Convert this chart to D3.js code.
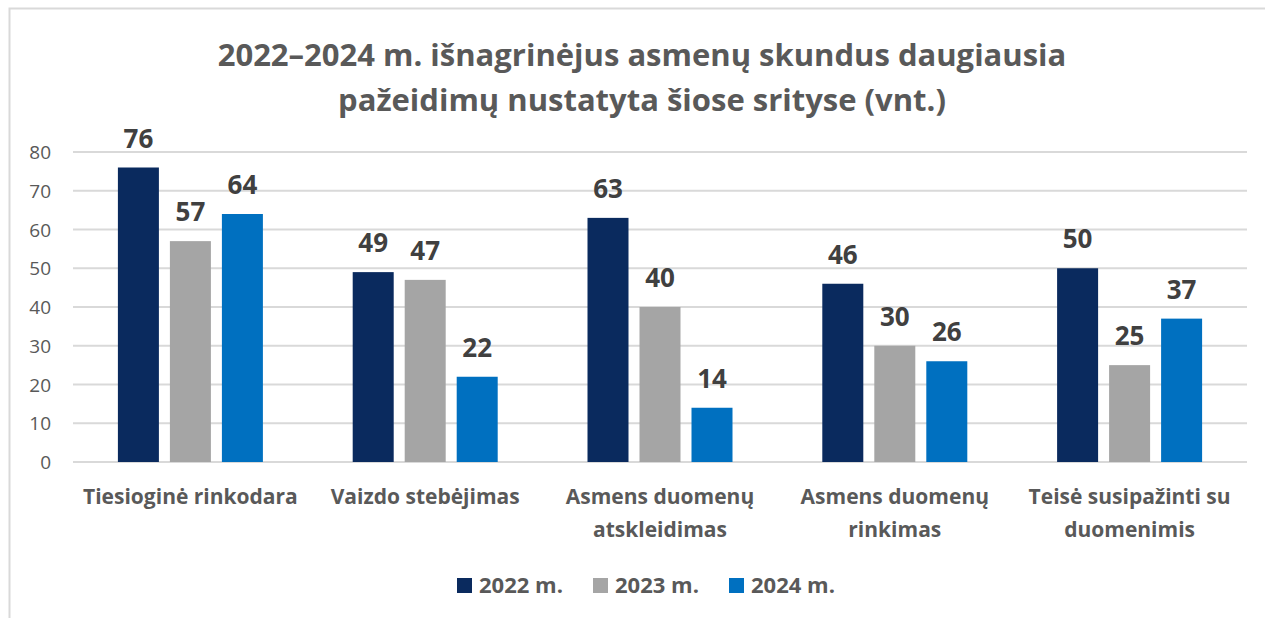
<!DOCTYPE html>
<html>
<head>
<meta charset="utf-8">
<script src="https://cdn.jsdelivr.net/npm/d3@7"></script>
<style>
    body { margin: 0; background: #fff; }
    svg text { font-family: "Open Sans", "DejaVu Sans", sans-serif; }
</style>
</head>
<body>
<div id="chart"></div>
<script>
const categories = [
    ["Tiesioginė rinkodara"],
    ["Vaizdo stebėjimas"],
    ["Asmens duomenų", "atskleidimas"],
    ["Asmens duomenų", "rinkimas"],
    ["Teisė susipažinti su", "duomenimis"]
];
const seriesNames = ["2022 m.", "2023 m.", "2024 m."];
const values2022 = [76, 49, 63, 46, 50];
const values2023 = [57, 47, 40, 30, 25];
const values2024 = [64, 22, 14, 26, 37];
const yTicks = [0, 10, 20, 30, 40, 50, 60, 70, 80];
const titleLines = ["2022–2024 m. išnagrinėjus asmenų skundus daugiausia", "pažeidimų nustatyta šiose srityse (vnt.)"];

const colors = ["#0a2a5e", "#a5a5a5", "#0070c0"];
const allValues = [values2022, values2023, values2024];

const width = 1265, height = 618;
const plot = { left: 73, right: 1247, top: 152, bottom: 462 };

const svg = d3.select("#chart").append("svg")
    .attr("width", width)
    .attr("height", height);

// frame
svg.append("path")
    .attr("d", "M9.5," + height + " V8.5 H" + width)
    .attr("fill", "none")
    .attr("stroke", "#d9d9d9")
    .attr("stroke-width", 2);

// title
svg.append("g").selectAll("text")
    .data(titleLines)
    .enter().append("text")
    .attr("x", 642)
    .attr("y", (d, i) => 66 + i * 45)
    .attr("text-anchor", "middle")
    .style("font-size", "31px")
    .style("font-weight", "bold")
    .style("fill", "#595959")
    .text(d => d);

const x0 = d3.scaleBand()
    .domain(d3.range(categories.length))
    .range([plot.left, plot.right]);

const groupWidth = 145, gap = 11;
const x1 = d3.scaleBand()
    .domain(seriesNames)
    .range([-groupWidth / 2, groupWidth / 2])
    .paddingInner(gap / ((groupWidth + gap) / 3));

const y = d3.scaleLinear()
    .domain([0, 80])
    .range([plot.bottom, plot.top]);

// gridlines
svg.append("g").selectAll("line")
    .data(yTicks)
    .enter().append("line")
    .attr("x1", plot.left)
    .attr("x2", plot.right)
    .attr("y1", d => y(d))
    .attr("y2", d => y(d))
    .attr("stroke", "#d9d9d9")
    .attr("stroke-width", 2);

// y axis labels
const yAxis = d3.axisLeft(y).tickValues(yTicks).tickSize(0).tickPadding(0);
const yG = svg.append("g")
    .attr("transform", "translate(51,0)")
    .call(yAxis);
yG.select(".domain").remove();
yG.selectAll("text")
    .style("font-size", "19px")
    .style("fill", "#595959")
    .attr("dy", "0.35em");

// bars
const groups = svg.append("g").selectAll("g")
    .data(categories)
    .enter().append("g")
    .attr("transform", (d, i) => "translate(" + (x0(i) + x0.bandwidth() / 2) + ",0)");

groups.each(function (c, ci) {
    const g = d3.select(this);
    seriesNames.forEach((s, si) => {
        const v = allValues[si][ci];
        g.append("rect")
            .attr("x", x1(s))
            .attr("y", y(v))
            .attr("width", x1.bandwidth())
            .attr("height", y(0) - y(v))
            .attr("fill", colors[si]);
        g.append("text")
            .attr("x", x1(s) + x1.bandwidth() / 2)
            .attr("y", y(v) - 20)
            .attr("text-anchor", "middle")
            .style("font-size", "26px")
            .style("font-weight", "bold")
            .style("fill", "#404040")
            .text(v);
    });
});

// category labels
const catG = svg.append("g").selectAll("text")
    .data(categories)
    .enter().append("text")
    .attr("x", (d, i) => x0(i) + x0.bandwidth() / 2)
    .attr("y", 504)
    .attr("text-anchor", "middle")
    .style("font-size", "21px")
    .style("font-weight", "bold")
    .style("fill", "#595959");
catG.selectAll("tspan")
    .data(d => d)
    .enter().append("tspan")
    .attr("x", function () { return this.parentNode.getAttribute("x"); })
    .attr("dy", (d, i) => i === 0 ? 0 : 33)
    .text(d => d);

// legend
const legendX = [457, 593, 729];
const legend = svg.append("g").selectAll("g")
    .data(seriesNames)
    .enter().append("g")
    .attr("transform", (d, i) => "translate(" + legendX[i] + ",578)");
legend.append("rect")
    .attr("width", 15)
    .attr("height", 15)
    .attr("fill", (d, i) => colors[i]);
legend.append("text")
    .attr("x", 22)
    .attr("y", 15)
    .style("font-size", "22px")
    .style("font-weight", "bold")
    .style("fill", "#595959")
    .text(d => d);
</script>
</body>
</html>
